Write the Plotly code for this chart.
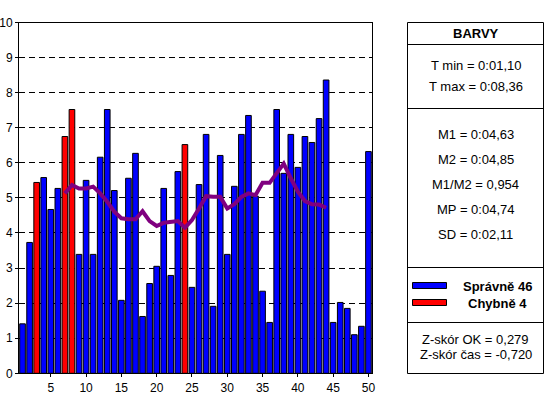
import plotly.graph_objects as go

# ---- data ----
trial = list(range(1, 51))
times = [1.41, 3.73, 5.44, 5.58, 4.67, 5.27, 6.75, 7.52, 3.39, 5.50,
         3.39, 6.16, 7.52, 5.21, 2.08, 5.56, 6.27, 1.62, 2.56, 3.05,
         5.27, 2.79, 5.75, 6.52, 2.45, 5.38, 6.81, 1.91, 6.21, 3.39,
         5.33, 6.81, 7.35, 5.05, 2.34, 1.45, 7.52, 5.70, 6.81, 5.87,
         6.75, 6.58, 7.26, 8.36, 1.45, 2.02, 1.85, 1.10, 1.34, 6.32]
wrong_trials = [3, 7, 8, 24]
avg_x = list(range(7, 45))
avg_y = [5.13, 5.37, 5.27, 5.27, 5.32, 5.13, 4.89, 4.61, 4.42, 4.39,
         4.39, 4.62, 4.34, 4.20, 4.29, 4.32, 4.34, 4.15, 4.37, 4.70,
         5.05, 5.03, 5.03, 4.70, 4.82, 5.03, 5.13, 5.08, 5.43, 5.43,
         5.70, 5.98, 5.56, 5.18, 4.91, 4.82, 4.81, 4.72]
x_ticks = [5, 10, 15, 20, 25, 30, 35, 40, 45, 50]
y_ticks = list(range(0, 11))

title_text = "BARVY"
t_lines = ["T min = 0:01,10", "T max = 0:08,36"]
m_lines = ["M1 = 0:04,63", "M2 = 0:04,85", "M1/M2 = 0,954", "MP = 0:04,74", "SD = 0:02,11"]
z_lines = ["Z-skór OK = 0,279", "Z-skór čas = -0,720"]
ok_label = "Správně"
bad_label = "Chybně"

BLUE = "#0000FF"
RED = "#FF0000"
W, H = 550, 394
FONT = "Liberation Sans, Arial, sans-serif"

colors = [RED if t in wrong_trials else BLUE for t in trial]
n_ok = sum(1 for t in trial if t not in wrong_trials)
n_bad = len(wrong_trials)


def px(x):
    return x / W


def py(y):
    return 1 - y / H


fig = go.Figure()
fig.add_trace(go.Bar(x=trial, y=times, width=0.8,
                     marker=dict(color=colors, line=dict(color="black", width=1)),
                     showlegend=False, hoverinfo="x+y"))
fig.add_trace(go.Scatter(x=avg_x, y=avg_y, mode="lines",
                         line=dict(color="#800080", width=4),
                         showlegend=False))

shapes = []
# right panel box and dividers
L, R = 407.5, 543.5
shapes.append(dict(type="rect", xref="paper", yref="paper",
                   x0=px(L), x1=px(R), y0=py(373.5), y1=py(22.5),
                   line=dict(color="black", width=1), fillcolor="rgba(0,0,0,0)"))
for yy in [44.5, 108.5, 267.5, 322.5]:
    shapes.append(dict(type="line", xref="paper", yref="paper",
                       x0=px(L), x1=px(R), y0=py(yy), y1=py(yy),
                       line=dict(color="black", width=1)))
# legend swatches
for (y0, y1, c) in [(282.5, 288.5, BLUE), (299.5, 305.5, RED)]:
    shapes.append(dict(type="rect", xref="paper", yref="paper",
                       x0=px(412.5), x1=px(446.5), y0=py(y1), y1=py(y0),
                       line=dict(color="black", width=1), fillcolor=c))

annotations = []
CX = (L + R) / 2


def add_text(txt, x, y, size=13, bold=False):
    annotations.append(dict(text=("<b>%s</b>" % txt) if bold else txt,
                            xref="paper", yref="paper", x=px(x), y=py(y),
                            xanchor="center", yanchor="middle", showarrow=False,
                            font=dict(family=FONT, size=size, color="black")))


add_text(title_text, CX, 33.5, size=13, bold=True)
for t, yy in zip(t_lines, [66, 87]):
    add_text(t, CX, yy)
for t, yy in zip(m_lines, [134, 159, 184, 209, 235]):
    add_text(t, CX, yy)
add_text("%s %d" % (ok_label, n_ok), 498, 286, bold=True)
add_text("%s %d" % (bad_label, n_bad), 497.5, 303, bold=True)
for t, yy in zip(z_lines, [339, 354]):
    add_text(t, CX, yy)

fig.update_layout(
    width=W, height=H,
    margin=dict(l=0, r=0, t=0, b=0),
    paper_bgcolor="white", plot_bgcolor="white",
    template="none",
    bargap=0.2,
    font=dict(family=FONT, size=12, color="black"),
    shapes=shapes, annotations=annotations,
    xaxis=dict(domain=[px(19), px(372)], range=[0.5, 50.5],
               tickvals=x_ticks, ticks="outside", ticklen=3, tickcolor="black",
               showgrid=False, zeroline=False, showline=True, linecolor="black",
               linewidth=1, mirror=True, automargin=False,
               tickfont=dict(family=FONT, size=12, color="black")),
    yaxis=dict(domain=[py(373.3), py(22.5)], range=[0, 10],
               tickvals=y_ticks, ticks="outside", ticklen=3, tickcolor="black",
               showgrid=True, gridcolor="black", gridwidth=1, griddash="6px,4px",
               zeroline=False, showline=True, linecolor="black", linewidth=1,
               mirror=True, automargin=False,
               tickfont=dict(family=FONT, size=12, color="black")),
)

fig.write_html("out.html",
               config={"displayModeBar": False},
               post_script="document.body.style.margin='0';document.body.style.padding='0';")
